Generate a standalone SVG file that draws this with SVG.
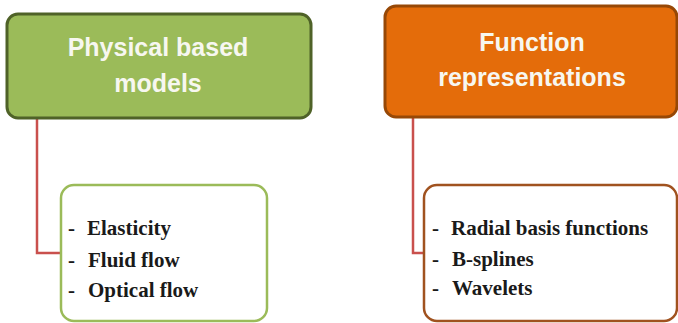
<svg xmlns="http://www.w3.org/2000/svg" width="678" height="323" viewBox="0 0 678 323">
  <style>
    .head { font-family: "Liberation Sans", Arial, sans-serif; font-weight: bold; font-size: 25px; fill: #f7f7f0; text-anchor: middle; }
    .item { font-family: "Liberation Serif", "Times New Roman", serif; font-weight: bold; font-size: 21px; fill: #1a1a1a; }
    .link { fill: none; stroke: #c9504d; stroke-width: 2.5; }
  </style>
  <rect width="678" height="323" fill="#ffffff"/>

  <g id="connectors">
    <polyline class="link" points="37,118 37,253 61,253"/>
    <polyline class="link" points="413,117 413,253 424,253"/>
  </g>

  <g id="physical-models">
    <rect x="7" y="14" width="304" height="104" rx="11" fill="#9bbb59" stroke="#4f6228" stroke-width="3"/>
    <text class="head" x="158" y="56">Physical based</text>
    <text class="head" x="158" y="92">models</text>
  </g>

  <g id="function-representations">
    <rect x="385" y="6" width="292" height="111" rx="11" fill="#e46c0a" stroke="#974806" stroke-width="3"/>
    <text class="head" x="532" y="51">Function</text>
    <text class="head" x="532" y="86">representations</text>
  </g>

  <g id="physical-list">
    <rect x="61" y="185" width="206" height="136" rx="13" fill="#ffffff" stroke="#9bbb59" stroke-width="2.5"/>
    <text class="item" x="68" y="235">-</text>
    <text class="item" x="87" y="235">Elasticity</text>
    <text class="item" x="68" y="267">-</text>
    <text class="item" x="88" y="267">Fluid flow</text>
    <text class="item" x="68" y="297">-</text>
    <text class="item" x="88" y="297">Optical flow</text>
  </g>

  <g id="function-list">
    <rect x="424" y="185" width="253" height="136" rx="13" fill="#ffffff" stroke="#a0521f" stroke-width="2.5"/>
    <text class="item" x="432" y="235">-</text>
    <text class="item" x="451" y="235">Radial basis functions</text>
    <text class="item" x="432" y="266">-</text>
    <text class="item" x="452" y="266">B-splines</text>
    <text class="item" x="432" y="295">-</text>
    <text class="item" x="452" y="295">Wavelets</text>
  </g>
</svg>
